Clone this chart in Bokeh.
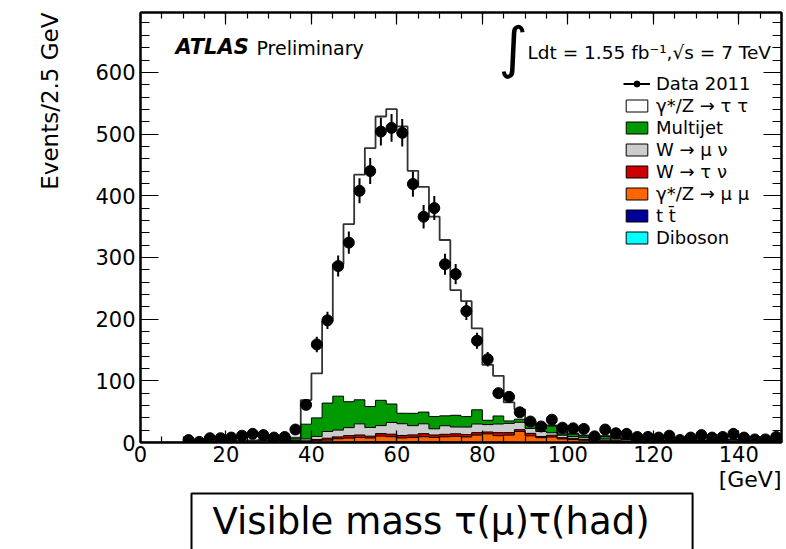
import numpy as np
from bokeh.plotting import figure
from bokeh.models import (ColumnDataSource, LinearAxis, SingleIntervalTicker, Range1d,
                          Label, Legend, LegendItem, Title)
from bokeh.embed import file_html
from bokeh.resources import INLINE

# ---------------- data (60 bins of 2.5 GeV, 0-150 GeV) ----------------
bin_lo, bin_hi = 0.0, 150.0

data_2011 = [0, 0, 0, 0, 4, 1, 7, 7, 8, 11, 14, 12, 8, 9,
             21, 61, 159, 198, 286, 324, 408, 440, 504, 510,
             502, 419, 366, 380, 289, 273, 213, 165, 135, 80,
             74, 49, 34, 26, 37, 24, 23, 22, 10, 21,
             15, 14, 9, 9, 8, 11, 4, 8, 12, 8,
             9, 14, 8, 5, 5, 9]

diboson = [0, 0, 0, 0, 0, 0, 0, 0, 0, 0, 0, 0, 0, 0,
           0, 0.2, 0.3, 0.3, 0.4, 0.4, 0.5, 0.5, 0.6, 0.6,
           0.6, 0.5, 0.5, 0.4, 0.4, 0.4, 0.3, 0.3, 0.3, 0.3,
           0.3, 0.2, 0.2, 0.2, 0.2, 0.2, 0.2, 0.2, 0.2, 0.2,
           0.1, 0.1, 0.1, 0.1, 0.1, 0.1, 0.1, 0.1, 0.1, 0.1,
           0.1, 0.1, 0.1, 0.1, 0.1, 0.1]

ttbar = [0, 0, 0, 0, 0, 0, 0, 0, 0, 0, 0, 0, 0, 0,
         0, 0.3, 0.4, 0.4, 0.5, 0.5, 0.5, 0.6, 0.6, 0.6,
         0.6, 0.6, 0.6, 0.6, 0.6, 0.5, 0.5, 0.5, 0.5, 0.5,
         0.5, 0.4, 0.4, 0.4, 0.4, 0.4, 0.3, 0.3, 0.3, 0.3,
         0.3, 0.3, 0.3, 0.3, 0.3, 0.2, 0.2, 0.2, 0.2, 0.2,
         0.2, 0.2, 0.2, 0.2, 0.2, 0.2]

zmumu = [0, 0, 0, 0, 0, 0, 0, 0, 0, 0, 0, 0.2, 0.3, 0.5,
         1.0, 1.2, 2.2, 3.2, 5.2, 6.2, 7.2, 6.2, 9.2, 8.2,
         6.2, 7.2, 8.2, 7.2, 8.2, 9.2, 8.2, 11.2, 13.2, 10.2,
         11.2, 17.2, 10.2, 7.2, 8.2, 5.2, 4.2, 3.2, 1.2, 1.2,
         1.2, 1.2, 0.5, 0.5, 0.5, 0.5, 0.5, 0.5, 0.5, 0.5,
         0.5, 0.5, 0.5, 0.5, 0.5, 0.5]

wtaunu = [0, 0, 0, 0, 0, 0, 0, 0, 0, 0, 0, 0, 0, 0,
          1, 1, 2, 3, 3, 4, 4, 3, 4, 4,
          4, 4, 5, 4, 4, 4, 4, 4, 3, 5,
          4, 3, 4, 2, 3, 2, 2, 1, 1, 2,
          2, 1, 0.5, 0.5, 0.4, 0.4, 0.5, 0.4, 0.4, 0.3,
          0.3, 0.4, 0.3, 0.3, 0.3, 0.3]

wmunu = [0, 0, 0, 0, 0, 0, 0.3, 0.3, 0.3, 0.3, 0.3, 0.3, 0.3, 0.3,
         1, 3, 5, 11, 11, 13, 18, 14, 13, 19,
         19, 15, 16, 10, 14, 11, 12, 14, 12, 14,
         15, 12, 8, 8, 4, 4, 3, 3, 2, 2,
         2, 2, 1.5, 1, 1, 1, 1, 1, 1, 1,
         1, 1.5, 1, 1, 1, 1]

multijet = [0, 0, 0, 0, 0.5, 1, 1, 1.5, 1.5, 2, 2, 2.5, 2, 2.5,
            3, 24, 30, 46, 55, 42, 39, 34, 41, 30,
            17, 20, 19, 20, 16, 19, 17, 23, 7, 13,
            4, 5, 8, 5, 11, 2, 4, 3, 1, 4,
            2, 1, 2.5, 2, 2, 1, 1, 8, 1, 1,
            1, 2, 0.5, 0.5, 0.5, 0.5]

ztautau = [0, 0, 0, 0, 0.3, 0.5, 0.5, 0.8, 1, 1, 1, 1.5, 1, 1.5,
           2, 39, 72, 133, 214, 288, 365, 419, 460, 478,
           465, 393, 365, 324, 285, 203, 187, 132, 90, 65,
           30, 16, 3, 6, 1, 2, 1, 1, 2, 1,
           1, 1, 1, 0.8, 0.8, 0.6, 0.6, 0.5, 0.5, 0.5,
           0.4, 0.4, 0.4, 0.3, 0.3, 0.3]

# stack order bottom -> top
stack_names = ["Diboson", "t t\u0304", "\u03b3*/Z \u2192 \u03bc \u03bc", "W \u2192 \u03c4 \u03bd",
               "W \u2192 \u03bc \u03bd", "Multijet", "\u03b3*/Z \u2192 \u03c4 \u03c4"]
stack_values = [diboson, ttbar, zmumu, wtaunu, wmunu, multijet, ztautau]
stack_colors = ["#00ffff", "#000099", "#ff6600", "#cc0000", "#cccccc", "#009900", "#ffffff"]

x_ticks_major, y_ticks_major = 20, 100

# ---------------- derived ----------------
edges = np.linspace(bin_lo, bin_hi, len(data_2011) + 1)
centers = 0.5 * (edges[:-1] + edges[1:])
cum = np.cumsum(np.array(stack_values, dtype=float), axis=0)

FONT = "DejaVu Sans"

p = figure(frame_width=641, frame_height=430,
           x_range=Range1d(0, 150), y_range=Range1d(0, 697),
           output_backend="svg", toolbar_location=None,
           min_border_left=140, min_border_right=4, min_border_top=12, min_border_bottom=106,
           background_fill_color="white", border_fill_color="white",
           outline_line_color="black", outline_line_width=2)
p.grid.visible = False

# stacked histogram: draw from the top of the stack down
for k in range(len(stack_values) - 1, -1, -1):
    top = np.append(cum[k], cum[k][-1])
    p.varea_step(x=edges, y1=np.zeros_like(top), y2=top, step_mode="after",
                 fill_color=stack_colors[k])
for k in range(len(stack_values) - 1, -1, -1):
    top = np.append(cum[k], cum[k][-1])
    if k == len(stack_values) - 1:
        p.step(x=edges, y=top, mode="after", line_color="#333333", line_width=1.8)
    else:
        p.step(x=edges, y=top, mode="after", line_color="black", line_width=1)

# data points
d = np.array(data_2011, dtype=float)
mask = d > 0
err = np.sqrt(d[mask])
src = ColumnDataSource(dict(x=centers[mask], y=d[mask], lo=d[mask] - err, hi=d[mask] + err))
seg = p.segment(x0="x", y0="lo", x1="x", y1="hi", source=src, line_color="black", line_width=2)
pts = p.scatter(x="x", y="y", source=src, size=11, marker="circle",
                fill_color="black", line_color="black")

# axes (ROOT style, ticks inside on all sides)
def style_axis(ax, interval, nminor, tick_in, minor_in, labels=True):
    ax.ticker = SingleIntervalTicker(interval=interval, num_minor_ticks=nminor)
    ax.axis_line_width = 2
    ax.axis_line_color = "black"
    ax.major_tick_in = tick_in
    ax.major_tick_out = 0
    ax.minor_tick_in = minor_in
    ax.minor_tick_out = 0
    ax.major_tick_line_width = 1.2
    ax.minor_tick_line_width = 1.2
    ax.major_tick_line_color = "black"
    ax.minor_tick_line_color = "black"
    if labels:
        ax.major_label_text_font = FONT
        ax.major_label_text_font_size = "21px"
        ax.major_label_text_color = "black"
    else:
        ax.major_label_text_font_size = "1px"
        ax.major_label_text_color = None
        ax.major_label_standoff = 0

style_axis(p.xaxis[0], x_ticks_major, 4, 12, 6)
p.xaxis[0].major_label_standoff = 3
style_axis(p.yaxis[0], y_ticks_major, 5, 18, 9)
p.yaxis[0].major_label_standoff = 5

ax_top = LinearAxis()
style_axis(ax_top, x_ticks_major, 4, 12, 6, labels=False)
p.add_layout(ax_top, "above")
ax_right = LinearAxis()
style_axis(ax_right, y_ticks_major, 5, 18, 9, labels=False)
p.add_layout(ax_right, "right")

# legend (proxy glyphs carry the legend styling only)
legend_items = [LegendItem(label="Data 2011", renderers=[seg, pts])]
for k in range(len(stack_values) - 1, -1, -1):
    r = p.quad(left=[np.nan], right=[np.nan], top=[np.nan], bottom=[np.nan],
               fill_color=stack_colors[k], line_color="black", line_width=1)
    legend_items.append(LegendItem(label=stack_names[k], renderers=[r]))
legend = Legend(items=legend_items, location=(483, 194), glyph_width=27, glyph_height=15,
                label_height=20, spacing=1, padding=0, margin=0, label_standoff=6,
                label_text_font=FONT, label_text_font_size="18px", label_text_color="black",
                border_line_alpha=0, background_fill_alpha=0)
p.add_layout(legend)

# texts inside the frame (screen units from the frame's bottom-left corner)
p.add_layout(Label(x=35, y=384, x_units="screen", y_units="screen", text="ATLAS",
                   text_font=FONT, text_font_size="21px", text_font_style="bold italic",
                   text_color="black"))
p.add_layout(Label(x=116, y=384, x_units="screen", y_units="screen", text="Preliminary",
                   text_font=FONT, text_font_size="19px", text_color="black"))
p.add_layout(Label(x=358, y=363, x_units="screen", y_units="screen", text="\u222b",
                   text_font=FONT, text_font_size="56px", text_color="black"))
p.add_layout(Label(x=387, y=380, x_units="screen", y_units="screen",
                   text="Ldt = 1.55 fb\u207b\u00b9,\u221as = 7 TeV",
                   text_font=FONT, text_font_size="18.5px", text_color="black"))

# texts outside the frame: titles in the side panels
p.add_layout(Title(text="Events/2.5 GeV", align="right", text_font=FONT, text_color="black",
                   text_font_size="23px", text_font_style="normal", standoff=59), "left")
p.add_layout(Title(text="[GeV]", align="right", text_font=FONT, text_color="black",
                   text_font_size="22px", text_font_style="normal", standoff=0), "below")
p.add_layout(Title(text="Visible mass \u03c4(\u03bc)\u03c4(had)", align="left", offset=51,
                   text_font=FONT, text_font_size="37px", text_font_style="normal",
                   text_color="black",
                   background_fill_color="white", border_line_color="black",
                   border_line_width=2, standoff=0,
                   padding=dict(left=21, right=43, top=6, bottom=9)), "below")

open("out.html", "w").write(file_html(p, INLINE))
